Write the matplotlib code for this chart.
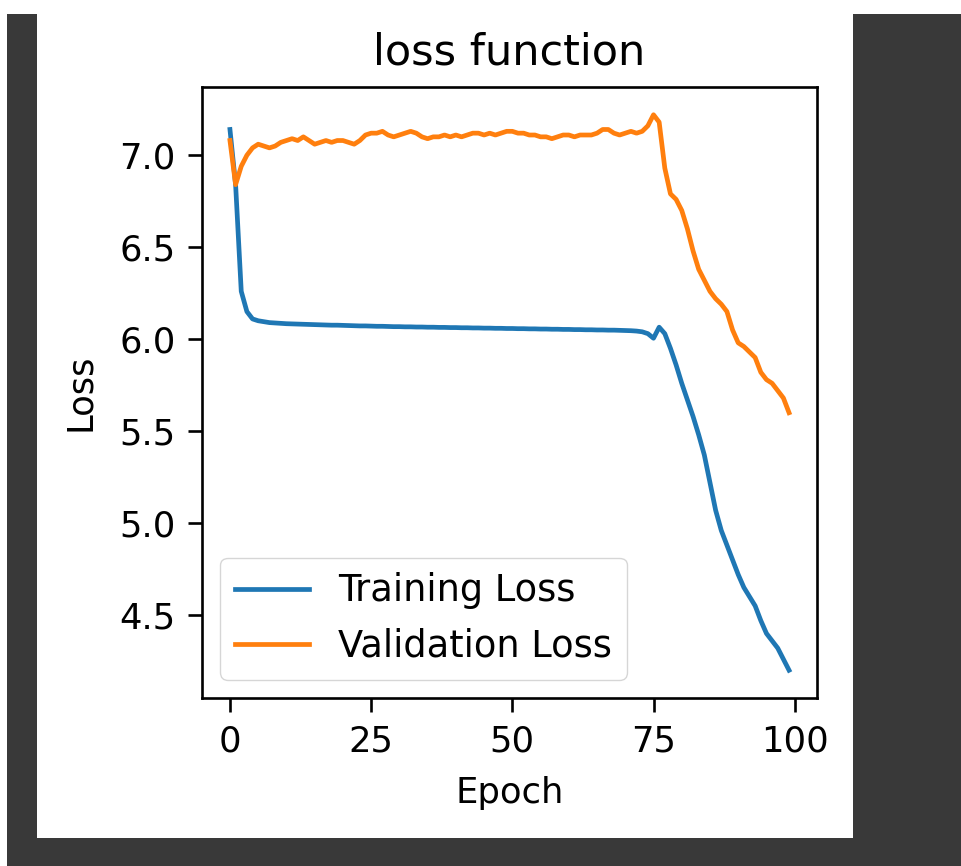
import matplotlib
matplotlib.use("Agg")
import matplotlib.pyplot as plt
from matplotlib.patches import Rectangle

epochs = list(range(100))

train_loss = [
    7.14, 6.84, 6.26, 6.15, 6.11, 6.10, 6.095, 6.09, 6.088, 6.086,
    6.084, 6.083, 6.082, 6.081, 6.080, 6.079, 6.078, 6.077, 6.076, 6.076,
    6.075, 6.074, 6.073, 6.072, 6.072, 6.071, 6.070, 6.070, 6.069, 6.068,
    6.068, 6.067, 6.067, 6.066, 6.066, 6.065, 6.065, 6.064, 6.064, 6.063,
    6.063, 6.062, 6.062, 6.061, 6.061, 6.060, 6.060, 6.059, 6.059, 6.058,
    6.058, 6.057, 6.057, 6.056, 6.056, 6.055, 6.055, 6.054, 6.054, 6.053,
    6.053, 6.052, 6.052, 6.051, 6.051, 6.050, 6.050, 6.049, 6.049, 6.048,
    6.047, 6.046, 6.044, 6.040, 6.030, 6.005, 6.065, 6.03, 5.95, 5.86,
    5.76, 5.67, 5.58, 5.48, 5.37, 5.22, 5.07, 4.96, 4.88, 4.80,
    4.72, 4.65, 4.60, 4.55, 4.47, 4.40, 4.36, 4.32, 4.26, 4.20,
]

val_loss = [
    7.08, 6.84, 6.94, 7.00, 7.04, 7.06, 7.05, 7.04, 7.05, 7.07,
    7.08, 7.09, 7.08, 7.10, 7.08, 7.06, 7.07, 7.08, 7.07, 7.08,
    7.08, 7.07, 7.06, 7.08, 7.11, 7.12, 7.12, 7.13, 7.11, 7.10,
    7.11, 7.12, 7.13, 7.12, 7.10, 7.09, 7.10, 7.10, 7.11, 7.10,
    7.11, 7.10, 7.11, 7.12, 7.12, 7.11, 7.12, 7.11, 7.12, 7.13,
    7.13, 7.12, 7.12, 7.11, 7.11, 7.10, 7.10, 7.09, 7.10, 7.11,
    7.11, 7.10, 7.11, 7.11, 7.11, 7.12, 7.14, 7.14, 7.12, 7.11,
    7.12, 7.13, 7.12, 7.13, 7.16, 7.22, 7.18, 6.93, 6.79, 6.76,
    6.70, 6.60, 6.48, 6.38, 6.32, 6.26, 6.22, 6.19, 6.15, 6.05,
    5.98, 5.96, 5.93, 5.90, 5.82, 5.78, 5.76, 5.72, 5.68, 5.60,
]

W, H = 962, 866
fig = plt.figure(figsize=(W / 100, H / 100), dpi=100, facecolor="#393939")

# white screenshot areas (pixel boxes -> figure fraction)
def px_rect(x0, y0, x1, y1):
    return Rectangle((x0 / W, 1 - y1 / H), (x1 - x0) / W, (y1 - y0) / H,
                     transform=fig.transFigure, facecolor="white",
                     edgecolor="none", zorder=-5)

fig.patches.append(px_rect(0, 0, W, 14))
fig.patches.append(px_rect(0, 0, 7, H))
fig.patches.append(px_rect(37, 0, 853, 838))

ax = fig.add_axes([202 / W, 1 - 698 / H, (817 - 202) / W, (698 - 87) / H])
ax.set_zorder(5)

ax.plot(epochs, train_loss, color="#1f77b4", lw=3.4, label="Training Loss")
ax.plot(epochs, val_loss, color="#ff7f0e", lw=3.4, label="Validation Loss")

ax.set_title("loss function", fontsize=31, pad=16)
ax.set_xlabel("Epoch", fontsize=25.5, labelpad=13)
ax.set_ylabel("Loss", fontsize=25.5, labelpad=16)
ax.set_xticks([0, 25, 50, 75, 100])
ax.set_yticks([4.5, 5.0, 5.5, 6.0, 6.5, 7.0])
ax.tick_params(labelsize=25.5, length=10, width=1.9, pad=9)
for s in ax.spines.values():
    s.set_linewidth(1.9)

ax.legend(loc="lower left", fontsize=26.5)

fig.savefig("out.png", dpi=100, facecolor=fig.get_facecolor())
